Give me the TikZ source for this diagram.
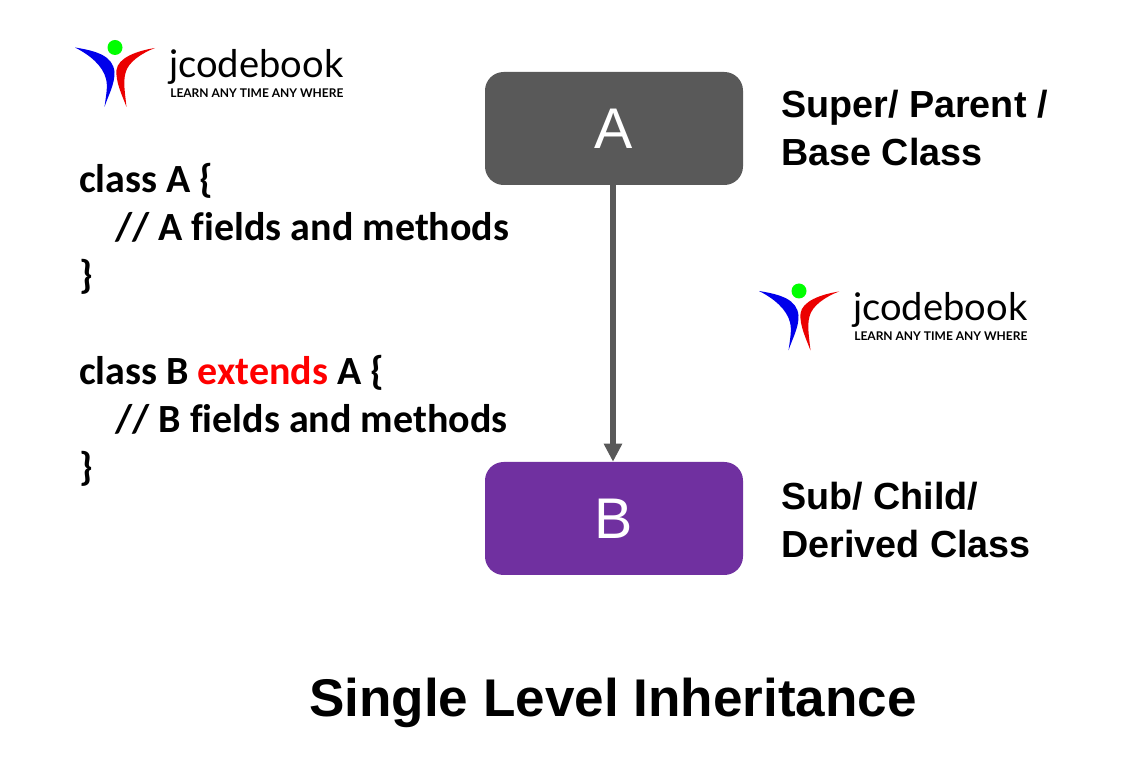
\documentclass[tikz,border=0pt]{standalone}
\usepackage{fontspec}
\usetikzlibrary{arrows.meta}
\setmainfont{Carlito}[Ligatures={NoCommon}]
\newfontfamily\titlefont{Liberation Sans}
\newfontfamily\boxfont{Liberation Sans}
\newfontfamily\logofont{Lato}
\definecolor{darkbox}{HTML}{595959}
\definecolor{purplebox}{HTML}{7030A0}
\definecolor{arrowgrey}{HTML}{595959}
\tikzset{
  x=0.75pt,y=-0.75pt,
  classbox/.style={rounded corners=14pt,minimum width=193.5pt,minimum height=84.75pt,inner sep=0pt,text=white},
  boxlabel/.style={font=\boxfont\fontsize{43}{50}\selectfont},
  sidelabel/.style={anchor=base west,inner sep=0pt,font=\titlefont\bfseries\fontsize{28.3}{32}\selectfont},
  codeline/.style={anchor=base west,inner sep=0pt,font=\bfseries\fontsize{30}{34}\selectfont},
  logomain/.style={anchor=base west,inner sep=0pt,font=\logofont\fontsize{28.6}{32}\selectfont},
  logosub/.style={anchor=base west,inner sep=0pt,font=\logofont\bfseries\fontsize{9}{10}\selectfont},
  logo/.pic={
    \fill[blue!92!black] (75,47.5) .. controls (97,51) and (113,56) .. (114.5,72) .. controls (115,84) and (108,96) .. (104.5,107) .. controls (106,96) and (108,86) .. (106,79) .. controls (103,66) and (90,55) .. (75,47.5) -- cycle;
    \fill[red!92!black] (155,48) .. controls (136,51) and (118,58) .. (116.5,70) .. controls (115.5,82) and (122,95) .. (126.5,107) .. controls (125,93) and (123,82) .. (125.5,73) .. controls (128,62) and (142,53) .. (155,48) -- cycle;
    \fill[green] (115,47.5) circle (7.5);
    \node[logomain] (-w) at (169,77.5) {jcodebook};
    \node[logosub] (-s) at (170,97.5) {LEARN ANY TIME ANY WHERE};
  }
}
\begin{document}
\begin{tikzpicture}
\useasboundingbox (0,0) rectangle (1136,766);
\fill[white] (0,0) rectangle (1136,766);
\pic (logoa) at (0,0) {logo};
\pic (logob) at (684,243.5) {logo};
\node[classbox,fill=darkbox,boxlabel] (A) at (614,128.5) {A};
\node[classbox,fill=purplebox,boxlabel] (B) at (614,518.5) {B};
\draw[arrowgrey,line width=4.3pt,-{Triangle[length=13.5pt,width=13pt]}] ([xshift=-0.75pt]A.south) -- ([xshift=-0.75pt]B.north);
\node[sidelabel] (sup1) at (781,117.5) {Super/ Parent /};
\node[sidelabel] (sup2) at (781,165.5) {Base Class};
\node[sidelabel] (sub1) at (781,509.5) {Sub/ Child/};
\node[sidelabel] (sub2) at (781,557.5) {Derived Class};
\node[codeline] (c1) at (79,193) {class A \{};
\node[codeline] (c2) at (115,241) {// A fields and methods};
\node[codeline] (c3) at (79,289) {\}};
\node[codeline] (c4) at (79,385) {class B \textcolor{red}{extends} A \{};
\node[codeline] (c5) at (115,433) {// B fields and methods};
\node[codeline] (c6) at (79,481) {\}};
\node[anchor=base,inner sep=0pt,font=\titlefont\bfseries\fontsize{39.8}{44}\selectfont] (title) at (613,716) {Single Level Inheritance};
\end{tikzpicture}
\end{document}
